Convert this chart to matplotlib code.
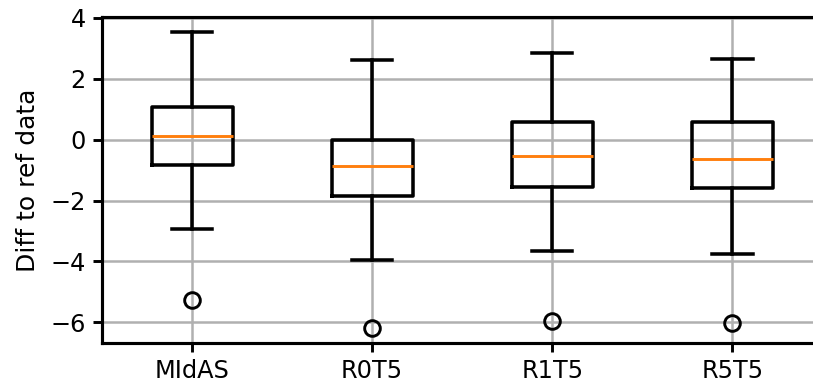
import matplotlib
matplotlib.use("Agg")
import matplotlib.pyplot as plt

labels = ["MIdAS", "R0T5", "R1T5", "R5T5"]
whislo = [-2.93, -3.95, -3.67, -3.77]
q1 = [-0.82, -1.86, -1.55, -1.60]
med = [0.13, -0.85, -0.55, -0.64]
q3 = [1.06, 0.00, 0.59, 0.58]
whishi = [3.53, 2.60, 2.84, 2.66]
fliers = [[-5.26], [-6.18], [-5.94], [-6.02]]

stats = []
for i, lab in enumerate(labels):
    stats.append(dict(label=lab, whislo=whislo[i], q1=q1[i], med=med[i],
                      q3=q3[i], whishi=whishi[i], fliers=fliers[i]))

dpi = 150
fig = plt.figure(figsize=(813 / dpi, 385 / dpi), dpi=dpi)
ax = fig.add_axes([0.1255, 0.110, 0.886, 0.845])

lw = 1.7
ax.bxp(stats, widths=0.45,
       boxprops=dict(linewidth=lw, color="black"),
       whiskerprops=dict(linewidth=lw, color="black"),
       capprops=dict(linewidth=lw, color="black"),
       medianprops=dict(linewidth=1.4, color="#ff7f0e"),
       flierprops=dict(marker="o", markersize=7.5, markerfacecolor="none",
                       markeredgecolor="black", markeredgewidth=1.4))

ax.grid(True, color="#b0b0b0", linewidth=1.2)
ax.set_axisbelow(True)
ax.set_ylabel("Diff to ref data", fontsize=12, labelpad=5)
ax.set_yticks([-6, -4, -2, 0, 2, 4])
ax.tick_params(axis="both", labelsize=11.5, length=4.3, width=1.4)
for s in ax.spines.values():
    s.set_linewidth(1.5)

fig.savefig("out.png", dpi=dpi)
